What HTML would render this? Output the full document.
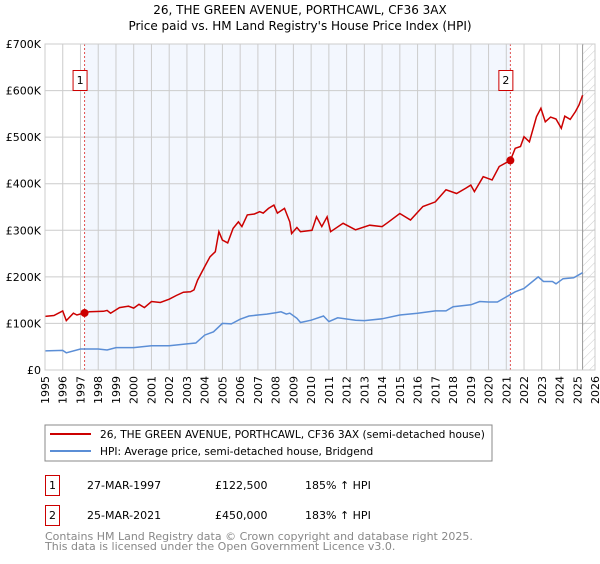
<!DOCTYPE html>
<html><head><meta charset="utf-8"><style>
body{margin:0;background:#fff;font-family:"DejaVu Sans","Liberation Sans",sans-serif;}
svg text{font-family:"DejaVu Sans","Liberation Sans",sans-serif;}
</style></head><body>
<svg id="c" width="600" height="560" viewBox="0 0 600 560" xmlns="http://www.w3.org/2000/svg">
<defs><pattern id="hatch" width="6" height="6" patternUnits="userSpaceOnUse" patternTransform="rotate(45)"><line x1="0" y1="0" x2="0" y2="6" stroke="#ccc" stroke-width="1"/></pattern></defs>
<text x="300" y="14" font-size="12" text-anchor="middle">26, THE GREEN AVENUE, PORTHCAWL, CF36 3AX</text>
<text x="300" y="30" font-size="12" text-anchor="middle">Price paid vs. HM Land Registry's House Price Index (HPI)</text>
<g id="plot"></g>
<rect x="45" y="425" width="447" height="36" fill="#fff" stroke="#888"/>
<line x1="50" y1="434" x2="91" y2="434" stroke="#cc0000" stroke-width="2"/>
<text x="100" y="438" font-size="10.6">26, THE GREEN AVENUE, PORTHCAWL, CF36 3AX (semi-detached house)</text>
<line x1="50" y1="451" x2="91" y2="451" stroke="#5b8ed6" stroke-width="2"/>
<text x="100" y="455" font-size="10.6">HPI: Average price, semi-detached house, Bridgend</text>
<g>
<rect x="45.5" y="475.5" width="14" height="20" fill="#fff" stroke="#cc0000"/>
<text x="52.5" y="489" font-size="11" text-anchor="middle">1</text>
<text x="87" y="489" font-size="11">27-MAR-1997</text>
<text x="215" y="489" font-size="11">£122,500</text>
<text x="305" y="489" font-size="11">185% ↑ HPI</text>
</g>
<g>
<rect x="45.5" y="505.5" width="14" height="20" fill="#fff" stroke="#cc0000"/>
<text x="52.5" y="519" font-size="11" text-anchor="middle">2</text>
<text x="87" y="519" font-size="11">25-MAR-2021</text>
<text x="215" y="519" font-size="11">£450,000</text>
<text x="305" y="519" font-size="11">183% ↑ HPI</text>
</g>
<text x="45" y="540" font-size="11" fill="#888">Contains HM Land Registry data © Crown copyright and database right 2025.</text>
<text x="45" y="550" font-size="11" fill="#888">This data is licensed under the Open Government Licence v3.0.</text>
</svg>
<script>
const yTicks=[0,100,200,300,400,500,600,700];
const yTickLabels=["£0","£100K","£200K","£300K","£400K","£500K","£600K","£700K"];
const years=[1995,1996,1997,1998,1999,2000,2001,2002,2003,2004,2005,2006,2007,2008,2009,2010,2011,2012,2013,2014,2015,2016,2017,2018,2019,2020,2021,2022,2023,2024,2025,2026];
const sales=[{n:"1",t:1997.23,v:122.5},{n:"2",t:2021.23,v:450}];
const redT=[1995,1995.5,1996,1996.2,1996.6,1996.8,1997.23,1997.5,1998.3,1998.5,1998.7,1999.2,1999.7,2000,2000.3,2000.6,2001,2001.5,2002,2002.4,2002.8,2003.2,2003.4,2003.6,2004,2004.3,2004.6,2004.8,2005,2005.3,2005.6,2005.9,2006.1,2006.4,2006.8,2007.1,2007.3,2007.6,2007.9,2008.1,2008.5,2008.8,2008.9,2009.2,2009.4,2010.05,2010.3,2010.6,2010.9,2011.1,2011.8,2012.5,2013.3,2014,2014.3,2015,2015.6,2016.3,2017,2017.6,2018.2,2018.7,2019,2019.2,2019.7,2020.2,2020.6,2021.23,2021.5,2021.8,2022,2022.3,2022.7,2022.95,2023.2,2023.5,2023.8,2024.1,2024.3,2024.6,2024.9,2025.1,2025.3];
const redV=[115,117,127,106,122,118,122.5,125,126,128,122,134,137,133,141,134,147,145,152,160,167,168,172,193,222,243,254,297,279,273,304,318,308,333,335,340,337,347,354,337,347,318,293,306,297,300,329,308,329,297,315,301,311,308,316,336,322,351,361,387,379,390,397,383,415,408,437,450,476,480,501,490,544,562,533,543,539,519,545,538,555,569,590];
const blueT=[1995,1996,1996.2,1997,1998,1998.5,1999,2000,2001,2002,2003,2003.5,2004,2004.5,2005,2005.5,2006,2006.5,2007,2007.5,2008,2008.3,2008.6,2008.8,2009.2,2009.4,2010,2010.7,2011,2011.5,2012.5,2013,2014,2015,2016,2017,2017.6,2018,2019,2019.5,2020,2020.5,2021,2021.5,2022,2022.8,2023.1,2023.6,2023.8,2024.2,2024.8,2025.3];
const blueV=[41,42,37,45,45,43,48,48,52,52,56,58,75,82,100,99,109,116,118,120,123,125,120,122,111,102,107,116,104,112,107,106,110,118,122,127,127,136,140,147,146,146,157,168,175,200,190,190,185,196,198,209];
const X0=45,X1=595,Y0=370,Y1=44;
const xs=t=>X0+(t-1995)/(2026-1995)*(X1-X0);
const ys=v=>Y0-v/700*(Y0-Y1);
const g=document.getElementById('plot');const NS='http://www.w3.org/2000/svg';
function mk(tag,a,name,parent){const e=document.createElementNS(NS,tag);for(const k in a)e.setAttribute(k,a[k]);


(parent||g).appendChild(e);return e;}
mk('rect',{x:xs(sales[0].t),y:Y1,width:xs(sales[1].t)-xs(sales[0].t),height:Y0-Y1,fill:'#eef3fd',opacity:0.7},'ownership-period');
mk('rect',{x:xs(2025.3),y:Y1,width:X1-xs(2025.3),height:Y0-Y1,fill:'url(#hatch)'},'forecast-hatch');
years.forEach(y=>{mk('line',{x1:xs(y),y1:Y1,x2:xs(y),y2:Y0,stroke:'#ccc','stroke-width':1},'x-gridline');
const t=mk('text',{x:0,y:0,'font-size':11,'text-anchor':'end',transform:`translate(${xs(y)+4},${Y0+6}) rotate(-90)`},'x-tick-label');t.textContent=y;});
yTicks.forEach((v,i)=>{mk('line',{x1:X0,y1:ys(v),x2:X1,y2:ys(v),stroke:'#ccc','stroke-width':1},'y-gridline');
const t=mk('text',{x:X0-4,y:ys(v)+4,'font-size':11,'text-anchor':'end'},'y-tick-label');t.textContent=yTickLabels[i];});
mk('line',{x1:xs(2025.3),y1:Y1,x2:xs(2025.3),y2:Y0,stroke:'#999','stroke-width':1},'data-end-line');
sales.forEach(s=>{mk('line',{x1:xs(s.t),y1:Y1,x2:xs(s.t),y2:Y0,stroke:'#e05050','stroke-width':1,'stroke-dasharray':'2,2'},'sale-marker-line');});
const path=(T,V)=>T.map((t,i)=>(i?'L':'M')+xs(t).toFixed(1)+','+ys(V[i]).toFixed(1)).join('');
mk('path',{d:path(blueT,blueV),fill:'none',stroke:'#5b8ed6','stroke-width':1.5},'hpi-line');
mk('path',{d:path(redT,redV),fill:'none',stroke:'#cc0000','stroke-width':1.5},'property-price-line');
sales.forEach(s=>{mk('circle',{cx:xs(s.t),cy:ys(s.v),r:4,fill:'#cc0000'},'sale-point');
const bx=xs(s.t)-11.5;mk('rect',{x:bx,y:70.5,width:14,height:20,fill:'#fff',stroke:'#cc0000'},'sale-label-box');
const t=mk('text',{x:bx+7,y:84,'font-size':11,'text-anchor':'middle'},'sale-label');t.textContent=s.n;});
mk('rect',{x:X0,y:Y1,width:X1-X0,height:Y0-Y1,fill:'none',stroke:'#ccc'},'plot-border');
</script>
</body></html>
